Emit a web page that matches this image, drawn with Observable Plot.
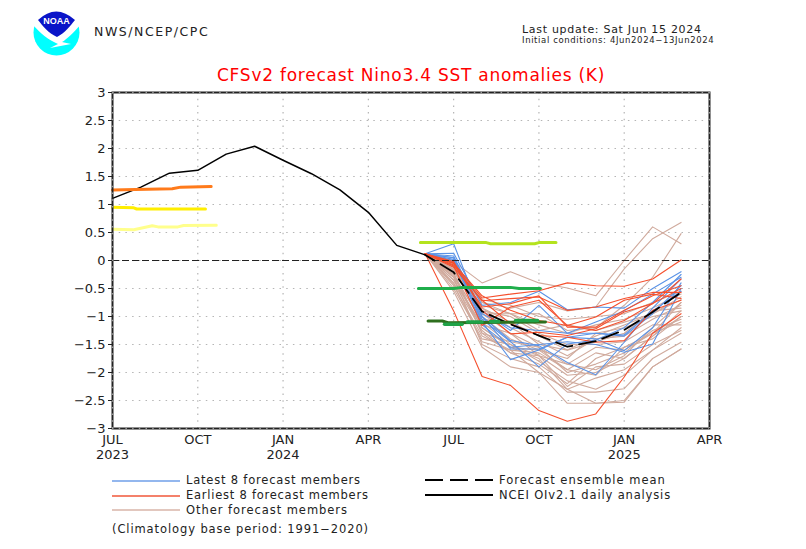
<!DOCTYPE html>
<html><head><meta charset="utf-8">
<script src="https://cdn.jsdelivr.net/npm/d3@7"></script>
<script src="https://cdn.jsdelivr.net/npm/@observablehq/plot@0.6"></script>
<style>
html,body{margin:0;padding:0;background:#fff}
#page{position:relative;width:806px;height:549px;overflow:hidden;font-family:"DejaVu Sans",sans-serif;color:#222}
#page svg{display:block}
.t{position:absolute;white-space:nowrap;line-height:1}
#chart{position:absolute;left:0;top:0}
</style></head><body>
<div id="page">
<div id="chart"></div>
<svg class="t" style="left:33px;top:9px" width="47" height="47" viewBox="0 0 47 47">
<circle cx="23.5" cy="23.5" r="23" fill="#00ffff"/>
<path d="M-1 -1H48V15C41 23 34 30 29 33L38 35L17 39L25 35C15 31 7 24 -1 15Z" fill="#fff"/>
<path d="M5 11Q23 -6 42 11C37 17 32 24 24 28C15 24 10 17 5 11Z" fill="#0a14c8"/>
<text x="23.5" y="15" text-anchor="middle" font-size="9" font-weight="bold" fill="#fff" font-family="Liberation Sans">NOAA</text>
</svg>
<div class="t" style="left:94px;top:26px;font-size:12.5px;letter-spacing:1.55px">NWS/NCEP/CPC</div>
<div class="t" style="left:522px;top:24px;font-size:11px;letter-spacing:.7px">Last update: Sat Jun 15 2024</div>
<div class="t" style="left:522px;top:36px;font-size:8.5px;letter-spacing:.62px">Initial conditions: 4Jun2024−13Jun2024</div>
<div class="t" style="left:217px;top:67px;font-size:17px;letter-spacing:.75px;color:#f00">CFSv2 forecast Nino3.4 SST anomalies (K)</div>
<svg class="t" style="left:112px;top:479px" width="68" height="4"><line x1="0" x2="68" y1="2" y2="2" stroke="#6f9fe8" stroke-width="1.5"/></svg>
<div class="t" style="left:186px;top:475px;font-size:11.5px;letter-spacing:.8px">Latest 8 forecast members</div>
<svg class="t" style="left:112px;top:494px" width="68" height="4"><line x1="0" x2="68" y1="2" y2="2" stroke="#f0573a" stroke-width="1.5"/></svg>
<div class="t" style="left:186px;top:490px;font-size:11.5px;letter-spacing:.75px">Earliest 8 forecast members</div>
<svg class="t" style="left:112px;top:508px" width="68" height="4"><line x1="0" x2="68" y1="2" y2="2" stroke="#d9b5a8" stroke-width="1.5"/></svg>
<div class="t" style="left:186px;top:505px;font-size:11.5px;letter-spacing:.95px">Other forecast members</div>
<div class="t" style="left:112px;top:524px;font-size:11.5px;letter-spacing:.9px">(Climatology base period: 1991−2020)</div>
<svg class="t" style="left:425px;top:476px" width="68" height="8"><line x1="0" x2="68" y1="4" y2="4" stroke="#000" stroke-width="2" stroke-dasharray="18,7"/></svg>
<div class="t" style="left:499px;top:475px;font-size:11.5px;letter-spacing:1px">Forecast ensemble mean</div>
<svg class="t" style="left:425px;top:493px" width="68" height="4"><line x1="0" x2="68" y1="2" y2="2" stroke="#000" stroke-width="2"/></svg>
<div class="t" style="left:499px;top:490px;font-size:11.5px;letter-spacing:.85px">NCEI OIv2.1 daily analysis</div>
</div>
<script>
const months=[11,12,13,14,15,16,17,18,19,20];
const latest=[
[.12,.30,-1.0,-1.58,-1.58,-1.37,-1.40,-1.61,-1.2,-.40],
[.12,.13,-.8,-.75,-.55,-.88,-.83,-.85,-.5,-.2],
[.12,.05,-1.1,-1.77,-1.6,-1.37,-1.3,-1.35,-.95,-.45],
[.12,.05,-.9,-1.25,-.8,-1.3,-1.1,-.9,-.6,-.3],
[.12,-.02,-1.05,-1.45,-1.9,-1.49,-1.42,-1.2,-.75,-.25],
[.12,.0,-1.0,-1.43,-1.52,-1.82,-2.04,-1.46,-.85,-.33],
[.12,.08,-.95,-1.2,-1.25,-1.3,-1.3,-1.33,-.9,-.55],
[.12,.02,-1.15,-1.55,-1.5,-1.45,-1.5,-1.64,-1.49,-.5]];
const earliest=[
[.12,-.9,-2.07,-2.23,-2.68,-2.87,-2.74,-2.08,-1.3,-.95],
[.12,-.05,-.67,-.6,-.54,-.4,-.45,-.46,-.33,.01],
[.12,-.08,-.72,-.68,-.65,-.89,-.83,-.68,-.57,-.57],
[.12,-.05,-.83,-.77,-.63,-1.19,-1.19,-.89,-.63,-.45],
[.12,-.1,-1.16,-.83,-.71,-1.16,-1.25,-1.07,-.77,-.33],
[.12,-.12,-.71,-1.13,-1.34,-1.37,-1.46,-1.43,-.89,-.71],
[.12,-.05,-.63,-.89,-1.07,-1.16,-1.01,-.71,-.6,-.68],
[.12,-.02,-.89,-1.31,-1.28,-1.34,-1.22,-.92,-.77,-.5]];
const others=[
[.12,-.02,-.4,-.2,-.4,-.49,-.63,0,.6,.3],
[.12,-.08,-.75,-.85,-.75,-.9,-.83,-.15,.39,.68],
[.12,-.15,-.8,-.95,-.95,-1.25,-1.2,-.8,-.3,.48],
[.12,-.35,-1.2,-1.55,-1.75,-2.3,-2.55,-2.53,-1.9,-1.58],
[.12,-.45,-1.35,-1.6,-2.0,-2.55,-2.55,-2.5,-1.9,-1.58],
[.12,-.3,-1.5,-1.75,-1.9,-2.35,-2.35,-2.29,-1.75,-1.46],
[.12,-.55,-1.55,-1.9,-2.0,-2.3,-2.1,-1.95,-1.6,-1.2],
[.12,-.25,-1.1,-1.5,-1.7,-2.05,-2.0,-1.75,-1.35,-1.0],
[.12,-.4,-1.25,-1.65,-1.85,-2.2,-1.75,-1.55,-1.3,-1.1],
[.12,-.15,-1.0,-1.4,-1.6,-1.95,-1.65,-1.75,-1.35,-.9],
[.12,-.2,-.95,-1.3,-1.55,-1.85,-1.55,-1.6,-1.3,-.75],
[.12,-.1,-.85,-1.2,-1.45,-1.7,-1.4,-1.35,-1.05,-.8],
[.12,-.3,-1.05,-1.1,-1.35,-1.6,-1.45,-1.3,-.9,-.85],
[.12,-.18,-.9,-1.0,-1.3,-1.5,-1.5,-1.45,-1.15,-1.15],
[.12,-.25,-1.3,-1.45,-1.55,-2.0,-1.85,-1.65,-1.25,-1.05],
[.12,-.5,-1.4,-1.5,-1.8,-2.15,-2.3,-2.05,-1.6,-1.3],
[.12,-.12,-.75,-.95,-1.15,-1.3,-1.15,-1.05,-.85,-.6],
[.12,-.07,-.7,-.8,-1.0,-1.05,-1.0,-.95,-.75,-.55],
[.12,-.35,-1.15,-1.3,-1.7,-1.85,-1.95,-1.7,-1.2,-.75],
[.12,-.05,-.95,-.95,-1.25,-1.15,-1.25,-1.1,-.95,-.7],
[.12,-.28,-1.2,-1.55,-1.6,-1.75,-1.3,-1.2,-1.0,-.9],
[.12,-.22,-1.3,-1.65,-1.7,-2.25,-1.9,-1.85,-1.5,-1.25],
[.12,-.42,-1.45,-1.6,-1.65,-1.95,-2.05,-1.55,-1.4,-1.0],
[.12,-.16,-.85,-1.1,-1.5,-1.6,-1.35,-1.15,-.95,-.65]];
const meanValues=[.1,-.21,-.91,-1.14,-1.34,-1.54,-1.44,-1.24,-.92,-.57];
const analysisMonths=[0,1,2,3,4,5,6,7,8,9,10,11];
const analysisValues=[1.11,1.31,1.56,1.61,1.90,2.04,1.79,1.55,1.26,.86,.27,.1];
const bars=[
 {color:"#ff7a1a",m:[0,.8,2.1,2.4,3.47],v:[1.26,1.27,1.28,1.31,1.32]},
 {color:"#ffee00",m:[0,.75,.85,3.27],v:[.95,.94,.92,.92]},
 {color:"#ffff8c",m:[0,.75,1.4,1.6,2.3,2.5,3.65],v:[.56,.55,.62,.6,.6,.625,.63]},
 {color:"#b4e31e",m:[10.83,13.15,13.3,14.85,15.0,15.6],v:[.32,.32,.3,.3,.32,.32]},
 {color:"#1fae4b",m:[10.76,12.0,12.3,14.0,14.3,15.05],v:[-.5,-.5,-.48,-.48,-.5,-.5]},
 {color:"#2e6f1e",m:[11.1,11.6,11.8,15.23],v:[-1.08,-1.08,-1.11,-1.1]}];
const midGreen=[
 {m:[11.68,12.3],v:[-1.14,-1.14]},
 {m:[12.48,13.0],v:[-1.1,-1.1]},
 {m:[13.3,13.58],v:[-1.09,-1.09]},
 {m:[14.18,14.95],v:[-1.07,-1.07]}];
const yTicks=d3.range(-3,3.01,.5);
const xTicks=[0,3,6,9,12,15,18,21];
const xLabels=["JUL\n2023","OCT","JAN\n2024","APR","JUL","OCT","JAN\n2025","APR"];
const rows=(list)=>list.flatMap((vals,i)=>vals.map((v,j)=>({i,m:months[j],v})));
const fmtY=d=>String(Math.round(d*10)/10).replace("-","−");
const plot=Plot.plot({
  width:806,height:472,marginLeft:112,marginRight:97,marginTop:92,marginBottom:44,
  style:{background:"transparent",fontFamily:'"DejaVu Sans",sans-serif'},
  x:{type:"linear",domain:[0,21],axis:null},
  y:{type:"linear",domain:[-3,3],axis:null},
  marks:[
    Plot.ruleY(yTicks.slice(1,-1),{stroke:"#b5b5b5",strokeWidth:1.2,strokeDasharray:"1.5,5.2"}),
    Plot.ruleX(xTicks.slice(1,-1),{stroke:"#b5b5b5",strokeWidth:1.2,strokeDasharray:"1.5,5.2"}),
    Plot.line(rows(others),{x:"m",y:"v",z:"i",stroke:"#d0aa9d",strokeWidth:1.1}),
    Plot.line(rows(latest),{x:"m",y:"v",z:"i",stroke:"#5b93e6",strokeWidth:1.1}),
    Plot.line(rows(earliest),{x:"m",y:"v",z:"i",stroke:"#f5502e",strokeWidth:1.1}),
    Plot.ruleY([0],{stroke:"#222",strokeWidth:1,strokeDasharray:"7,3"}),
    Plot.line(analysisMonths,{x:d=>d,y:(d,i)=>analysisValues[i],stroke:"#000",strokeWidth:1.5}),
    Plot.line(months,{x:d=>d,y:(d,i)=>meanValues[i],stroke:"#000",strokeWidth:1.8,strokeDasharray:"17,7",strokeDashoffset:6}),
    ...bars.map(b=>Plot.line(b.m.map((m,i)=>({m,v:b.v[i]})),{x:"m",y:"v",stroke:b.color,strokeWidth:3})),
    ...midGreen.map(b=>Plot.line(b.m.map((m,i)=>({m,v:b.v[i]})),{x:"m",y:"v",stroke:"#1fa247",strokeWidth:3.5})),
    Plot.frame({stroke:"#222",strokeWidth:2}),
    Plot.ruleY([-3,3],{stroke:"#999",strokeWidth:2,strokeDasharray:"1.5,5.2"}),
    Plot.ruleX([0,21],{stroke:"#999",strokeWidth:2,strokeDasharray:"1.5,5.2"}),
    Plot.axisY({ticks:yTicks,tickSize:4,tickPadding:3,tickFormat:fmtY,anchor:"left",fontSize:13,fill:"#222",stroke:"#222",label:null}),
    Plot.axisX({ticks:xTicks,tickSize:0,tickPadding:5,tickFormat:d=>xLabels[xTicks.indexOf(d)],anchor:"bottom",fontSize:13,lineHeight:1.15,fill:"#222",label:null})
  ]
});
document.getElementById("chart").append(plot);
</script>
</body></html>
